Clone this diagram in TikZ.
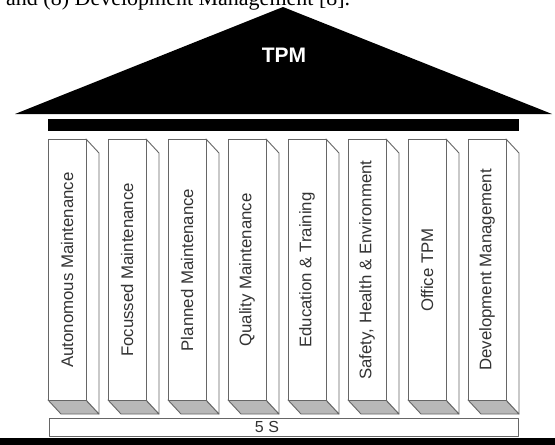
\documentclass[tikz,border=0pt]{standalone}
\usepackage{fontspec}
\setmainfont{Liberation Sans}
\newfontfamily\timesfont{Liberation Serif}
\definecolor{edgegray}{gray}{0.4}
\definecolor{floorgray}{gray}{0.72}
\definecolor{labelgray}{gray}{0.2}
\tikzset{
  pillarline/.style={draw=edgegray,line width=0.9pt,line join=round},
  pillarlabel/.style={rotate=90,text=labelgray,inner sep=0,font=\fontsize{16.8}{18}\selectfont}
}

\begin{document}
\begin{tikzpicture}[x=1pt,y=-1pt]
        \useasboundingbox (0,0) rectangle (555,445);
        \clip (0,0) rectangle (555,445);
        % text line cut off above the picture
        \node[anchor=base west,inner sep=0,font=\timesfont\fontsize{22}{24}\selectfont] (caption) at (6,5) {and (8) Development Management [8].};
        % roof and beam
        \fill[black] (15,114) -- (283,7) -- (552,114) -- cycle;
        \node[white,font=\bfseries\fontsize{21}{24}\selectfont] (tpm) at (284,55) {TPM};
        \fill[black] (48,119) rectangle (519,131);
        % the eight pillars
        \foreach \i/\txt in {0/Autonomous Maintenance,1/Focussed Maintenance,2/Planned Maintenance,3/Quality Maintenance,4/Education \& Training,5/{Safety, Health \& Environment},6/Office TPM,7/Development Management} {
          \pgfmathsetmacro{\xa}{48+60*\i}
          \pgfmathsetmacro{\xb}{\xa+38}
          \pgfmathsetmacro{\xc}{\xa+51}
          \pgfmathsetmacro{\xd}{\xa+13}
          \filldraw[pillarline,fill=floorgray] (\xa,400) -- (\xb,400) -- (\xc,414) -- (\xd,414) -- cycle;
          \filldraw[pillarline,fill=white] (\xb,139) -- (\xc,153) -- (\xc,414) -- (\xb,400) -- cycle;
          \filldraw[pillarline,fill=white] (\xa,139) rectangle (\xb,400);
          \node[pillarlabel] (pillar\i) at ({(\xa+\xb)/2},270) {\txt};
        }
        % base
        \filldraw[pillarline,fill=white] (49,418) rectangle (518,436);
        \node[text=labelgray,font=\fontsize{16}{18}\selectfont] (fives) at (267,427) {5 S};
        \fill[black] (0,438) rectangle (555,446);
\end{tikzpicture}
\end{document}
